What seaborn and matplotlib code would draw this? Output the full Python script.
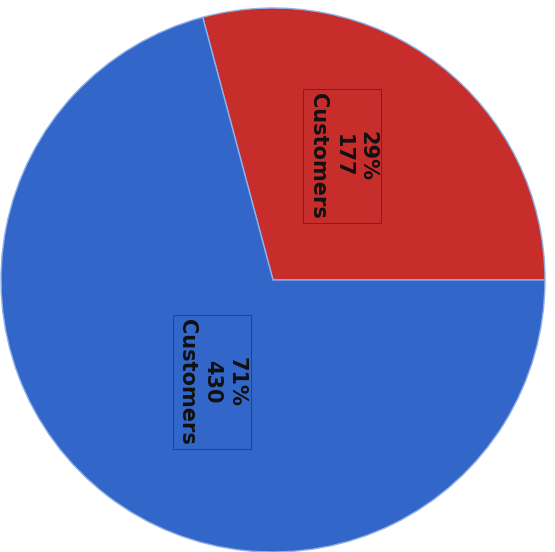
"""
客户分布饼图：两组客户的人数及占比
"""

import matplotlib
matplotlib.use("Agg")
import matplotlib.pyplot as plt
import seaborn as sns

# 数据
groups = ["Group A", "Group B"]
customers = [177, 430]
percents = ["29%", "71%"]
colors = ["#c62d2b", "#3266c9"]


def plot_pie(output_path="out.png"):
    sns.set_theme(style="white")
    plt.rcParams["font.family"] = ["DejaVu Sans", "DejaVu Serif"]

    fig = plt.figure(figsize=(5.55, 5.52), dpi=100)
    ax = fig.add_axes([0, 0, 1, 1])

    wedges, _ = ax.pie(
        customers,
        colors=colors,
        startangle=0,
        counterclock=True,
        radius=1.0,
        wedgeprops={"edgecolor": "#8fb0e8", "linewidth": 1.0},
    )

    # 标签位置（相对饼心）
    label_pos = [(0.255, 0.455), (-0.225, -0.375)]
    edge_cols = ["#5a1010", "#142a60"]
    for (x, y), pct, n, ec in zip(label_pos, percents, customers, edge_cols):
        ax.text(
            x, y, f"{pct}\n{n}\nCustomers",
            rotation=-90, ha="center", va="center",
            fontsize=15, fontweight="heavy", color="#111111",
            linespacing=1.3,
            bbox={"boxstyle": "square,pad=0.2", "facecolor": "none",
                  "edgecolor": ec, "linewidth": 0.8, "alpha": 0.55},
        )

    ax.set_xlim(-273 / 272, (555 - 273) / 272)
    ax.set_ylim(-272 / 272, 280 / 272)
    ax.set_aspect("auto")
    ax.axis("off")

    fig.savefig(output_path, dpi=100, facecolor="white")
    plt.close(fig)


if __name__ == "__main__":
    plot_pie()
